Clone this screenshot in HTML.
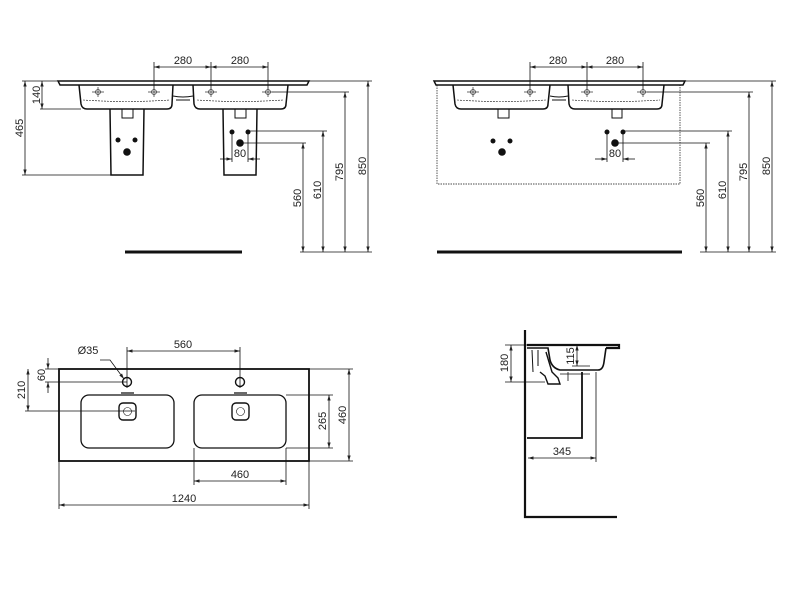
<!DOCTYPE html>
<html><head><meta charset="utf-8"><style>
html,body{margin:0;padding:0;background:#fff;}
svg{display:block;font-family:"Liberation Sans",sans-serif;}
text{font-size:11px;fill:#222;}
</style></head><body>
<svg width="800" height="598" viewBox="0 0 800 598" xmlns="http://www.w3.org/2000/svg">
<defs>
<marker id="a" viewBox="0 0 10 10" refX="10" refY="5" markerWidth="7" markerHeight="7" orient="auto-start-reverse"><path d="M0,2 L10,5 L0,8 z" fill="#222"/></marker>
<g id="tap"><line x1="-6" y1="0" x2="6" y2="0" stroke="#444" stroke-width="0.8"/><line x1="0" y1="-5" x2="0" y2="5" stroke="#444" stroke-width="0.8"/><circle r="2.5" fill="none" stroke="#444" stroke-width="0.8"/></g>
</defs>
<g stroke="#111" fill="none" stroke-width="1">
<!-- ===== TOP LEFT ===== -->
<path d="M58,81 L309,81 L307,85 L60,85 Z" stroke-width="1.5"/>
<path d="M79,85 L81,104 Q82,109 87,109 L167,109 Q172,109 172,104 L173,85" stroke-width="1.5"/>
<path d="M193,85 L194,104 Q195,109 200,109 L281,109 Q286,109 286,104 L288,85" stroke-width="1.5"/>
<path d="M173,96 Q183,98 193,96 M176,100 L190,100" stroke-width="0.9"/>
<path d="M83,100 Q126,103 170,100 M197,100 Q240,103 283,100" stroke-width="0.6" stroke-dasharray="2,1"/>
<path d="M110,109 L111,175 L143,175 L144,109 M223,109 L224,175 L256,175 L257,109" stroke-width="1.5"/>
<path d="M122,109 L122,118 L133,118 L133,109 M235,109 L235,118 L246,118 L246,109" stroke-width="1"/>
<path d="M154,90 L154,62 M211,90 L211,62 M268,90 L268,62" stroke-width="0.8"/>
<line x1="154" y1="67" x2="211" y2="67" marker-start="url(#a)" marker-end="url(#a)" stroke-width="0.8"/>
<line x1="211" y1="67" x2="268" y2="67" marker-start="url(#a)" marker-end="url(#a)" stroke-width="0.8"/>
<path d="M22,81 L58,81 M40,109 L81,109 M22,175 L111,175" stroke-width="0.8"/>
<line x1="42" y1="81" x2="42" y2="109" marker-start="url(#a)" marker-end="url(#a)" stroke-width="0.8"/>
<line x1="25" y1="81" x2="25" y2="175" marker-start="url(#a)" marker-end="url(#a)" stroke-width="0.8"/>
<path d="M309,81 L372,81 M272,92 L349,92 M250,131 L327,131 M242,143 L306,143" stroke-width="0.8"/>
<line x1="368" y1="81" x2="368" y2="252" marker-start="url(#a)" marker-end="url(#a)" stroke-width="0.8"/>
<line x1="345" y1="92" x2="345" y2="252" marker-start="url(#a)" marker-end="url(#a)" stroke-width="0.8"/>
<line x1="323" y1="131" x2="323" y2="252" marker-start="url(#a)" marker-end="url(#a)" stroke-width="0.8"/>
<line x1="303" y1="143" x2="303" y2="252" marker-start="url(#a)" marker-end="url(#a)" stroke-width="0.8"/>
<path d="M300,252 L372,252" stroke-width="0.8"/>
<path d="M232,132 L232,162 M248,132 L248,162" stroke-width="0.8"/>
<line x1="220" y1="159" x2="232" y2="159" marker-end="url(#a)" stroke-width="0.8"/>
<line x1="260" y1="159" x2="248" y2="159" marker-end="url(#a)" stroke-width="0.8"/>
<line x1="125" y1="252" x2="242" y2="252" stroke-width="3"/>

<!-- ===== TOP RIGHT ===== -->
<path d="M434,81 L685,81 L683,85 L436,85 Z" stroke-width="1.5"/>
<path d="M453,85 L455,104 Q456,109 461,109 L543,109 Q548,109 548,104 L550,85" stroke-width="1.5"/>
<path d="M568,85 L569,104 Q570,109 575,109 L657,109 Q662,109 662,104 L664,85" stroke-width="1.5"/>
<path d="M550,96 Q559,98 568,96 M552,100 L566,100" stroke-width="0.9"/>
<path d="M457,100 Q500,103 546,100 M572,100 Q615,103 660,100" stroke-width="0.6" stroke-dasharray="2,1"/>
<path d="M498,109 L498,118 L509,118 L509,109 M612,109 L612,118 L622,118 L622,109" stroke-width="1"/>
<path d="M437,85 L437,184 L680,184 L680,85" stroke-width="0.7" stroke-dasharray="1.5,1"/>
<path d="M530,90 L530,62 M587,90 L587,62 M643,90 L643,62" stroke-width="0.8"/>
<line x1="530" y1="67" x2="587" y2="67" marker-start="url(#a)" marker-end="url(#a)" stroke-width="0.8"/>
<line x1="587" y1="67" x2="643" y2="67" marker-start="url(#a)" marker-end="url(#a)" stroke-width="0.8"/>
<path d="M685,81 L776,81 M647,92 L753,92 M625,131 L732,131 M617,143 L710,143" stroke-width="0.8"/>
<line x1="772" y1="81" x2="772" y2="252" marker-start="url(#a)" marker-end="url(#a)" stroke-width="0.8"/>
<line x1="749" y1="92" x2="749" y2="252" marker-start="url(#a)" marker-end="url(#a)" stroke-width="0.8"/>
<line x1="728" y1="131" x2="728" y2="252" marker-start="url(#a)" marker-end="url(#a)" stroke-width="0.8"/>
<line x1="706" y1="143" x2="706" y2="252" marker-start="url(#a)" marker-end="url(#a)" stroke-width="0.8"/>
<path d="M700,252 L776,252" stroke-width="0.8"/>
<path d="M607,132 L607,162 M623,132 L623,162" stroke-width="0.8"/>
<line x1="595" y1="159" x2="607" y2="159" marker-end="url(#a)" stroke-width="0.8"/>
<line x1="635" y1="159" x2="623" y2="159" marker-end="url(#a)" stroke-width="0.8"/>
<line x1="437" y1="252" x2="682" y2="252" stroke-width="3"/>

<!-- ===== BOTTOM LEFT ===== -->
<rect x="59" y="369" width="250" height="92" stroke-width="1.8"/>
<rect x="81" y="395" width="93" height="53" rx="8" stroke-width="1.3"/>
<rect x="194" y="395" width="92" height="53" rx="8" stroke-width="1.3"/>
<circle cx="127" cy="382" r="4.5" stroke-width="1.4"/>
<circle cx="240" cy="382" r="4.5" stroke-width="1.4"/>
<rect x="119" y="403" width="17" height="17" rx="4" stroke-width="1.4"/>
<rect x="232" y="403" width="17" height="17" rx="4" stroke-width="1.4"/>
<circle cx="127.5" cy="411.5" r="4" stroke-width="0.6"/>
<circle cx="240.5" cy="411.5" r="4" stroke-width="0.6"/>
<path d="M121,393 L134,393 M234,393 L247,393" stroke-width="1.3"/>
<path d="M127,347 L127,388 M240,347 L240,388" stroke-width="0.8"/>
<line x1="127" y1="351" x2="240" y2="351" marker-start="url(#a)" marker-end="url(#a)" stroke-width="0.8"/>
<path d="M100,360 L110,360 L124,379" stroke-width="0.8" marker-end="url(#a)"/>
<path d="M45,369 L59,369 M45,382 L127,382 M25,411 L135,411" stroke-width="0.8"/>
<line x1="48" y1="358" x2="48" y2="369" marker-end="url(#a)" stroke-width="0.8"/>
<line x1="48" y1="393" x2="48" y2="382" marker-end="url(#a)" stroke-width="0.8"/>
<line x1="28" y1="369" x2="28" y2="411" marker-start="url(#a)" marker-end="url(#a)" stroke-width="0.8"/>
<path d="M309,369 L353,369 M309,461 L353,461 M286,395 L333,395 M286,448 L333,448" stroke-width="0.8"/>
<line x1="349" y1="369" x2="349" y2="461" marker-start="url(#a)" marker-end="url(#a)" stroke-width="0.8"/>
<line x1="329" y1="395" x2="329" y2="448" marker-start="url(#a)" marker-end="url(#a)" stroke-width="0.8"/>
<path d="M194,448 L194,485 M286,448 L286,485 M59,461 L59,509 M309,461 L309,509" stroke-width="0.8"/>
<line x1="194" y1="481" x2="286" y2="481" marker-start="url(#a)" marker-end="url(#a)" stroke-width="0.8"/>
<line x1="59" y1="505" x2="309" y2="505" marker-start="url(#a)" marker-end="url(#a)" stroke-width="0.8"/>

<!-- ===== SIDE VIEW ===== -->
<path d="M525,330 L525,517 L617,517" stroke-width="2.2"/>
<path d="M527,345 L619,345 L619,348 L606,348" stroke-width="2.2"/>
<path d="M527,348 L548,348 L550,360 Q552,368 560,370 L598,370 Q603,370 604,362 L606,348" stroke-width="1.6"/>
<path d="M546,352 L552,372 L558,378 L560,384 L548,384 L545,376 L540,372" stroke-width="1.4"/>
<path d="M527,438 L582,438 L582,372" stroke-width="1.8"/>
<path d="M532,350 L533,372 M538,350 L538,366" stroke-width="1"/>
<path d="M560,374 L590,374 M568,372 L568,381" stroke-width="0.8"/>
<path d="M505,345 L527,345 M505,382 L545,382 M572,366 L590,366 M596,372 L596,462" stroke-width="0.8"/>
<line x1="511" y1="345" x2="511" y2="382" marker-start="url(#a)" marker-end="url(#a)" stroke-width="0.8"/>
<line x1="577" y1="345" x2="577" y2="366" marker-start="url(#a)" marker-end="url(#a)" stroke-width="0.8"/>
<line x1="528" y1="458" x2="596" y2="458" marker-start="url(#a)" marker-end="url(#a)" stroke-width="0.8"/>
</g>
<use href="#tap" x="98" y="92"/><use href="#tap" x="154" y="92"/><use href="#tap" x="211" y="92"/><use href="#tap" x="268" y="92"/>
<use href="#tap" x="473" y="92"/><use href="#tap" x="530" y="92"/><use href="#tap" x="587" y="92"/><use href="#tap" x="643" y="92"/>
<g fill="#111">
<circle cx="118" cy="140" r="2.5"/><circle cx="135" cy="140" r="2.5"/><circle cx="127" cy="152" r="3.8"/>
<circle cx="232" cy="132" r="2.5"/><circle cx="248" cy="132" r="2.5"/><circle cx="240" cy="143" r="3.8"/>
<circle cx="493" cy="141" r="2.5"/><circle cx="510" cy="141" r="2.5"/><circle cx="502" cy="152" r="3.8"/>
<circle cx="607" cy="132" r="2.5"/><circle cx="623" cy="132" r="2.5"/><circle cx="615" cy="143" r="3.8"/>
</g>
<text x="183" y="64" text-anchor="middle">280</text>
<text x="240" y="64" text-anchor="middle">280</text>
<text x="240" y="157" text-anchor="middle">80</text>
<text transform="translate(40,95) rotate(-90)" text-anchor="middle">140</text>
<text transform="translate(23,128) rotate(-90)" text-anchor="middle">465</text>
<text transform="translate(366,166) rotate(-90)" text-anchor="middle">850</text>
<text transform="translate(343,172) rotate(-90)" text-anchor="middle">795</text>
<text transform="translate(321,190) rotate(-90)" text-anchor="middle">610</text>
<text transform="translate(301,198) rotate(-90)" text-anchor="middle">560</text>

<text x="558" y="64" text-anchor="middle">280</text>
<text x="615" y="64" text-anchor="middle">280</text>
<text x="615" y="157" text-anchor="middle">80</text>
<text transform="translate(770,166) rotate(-90)" text-anchor="middle">850</text>
<text transform="translate(747,172) rotate(-90)" text-anchor="middle">795</text>
<text transform="translate(726,190) rotate(-90)" text-anchor="middle">610</text>
<text transform="translate(704,198) rotate(-90)" text-anchor="middle">560</text>

<text x="183" y="348" text-anchor="middle">560</text>
<text x="88" y="354" text-anchor="middle">Ø35</text>
<text transform="translate(45,375) rotate(-90)" text-anchor="middle">60</text>
<text transform="translate(25,390) rotate(-90)" text-anchor="middle">210</text>
<text transform="translate(346,415) rotate(-90)" text-anchor="middle">460</text>
<text transform="translate(326,421) rotate(-90)" text-anchor="middle">265</text>
<text x="240" y="478" text-anchor="middle">460</text>
<text x="184" y="502" text-anchor="middle">1240</text>

<text transform="translate(508,363) rotate(-90)" text-anchor="middle">180</text>
<text transform="translate(574,356) rotate(-90)" text-anchor="middle">115</text>
<text x="562" y="455" text-anchor="middle">345</text>
</svg>
</body></html>
